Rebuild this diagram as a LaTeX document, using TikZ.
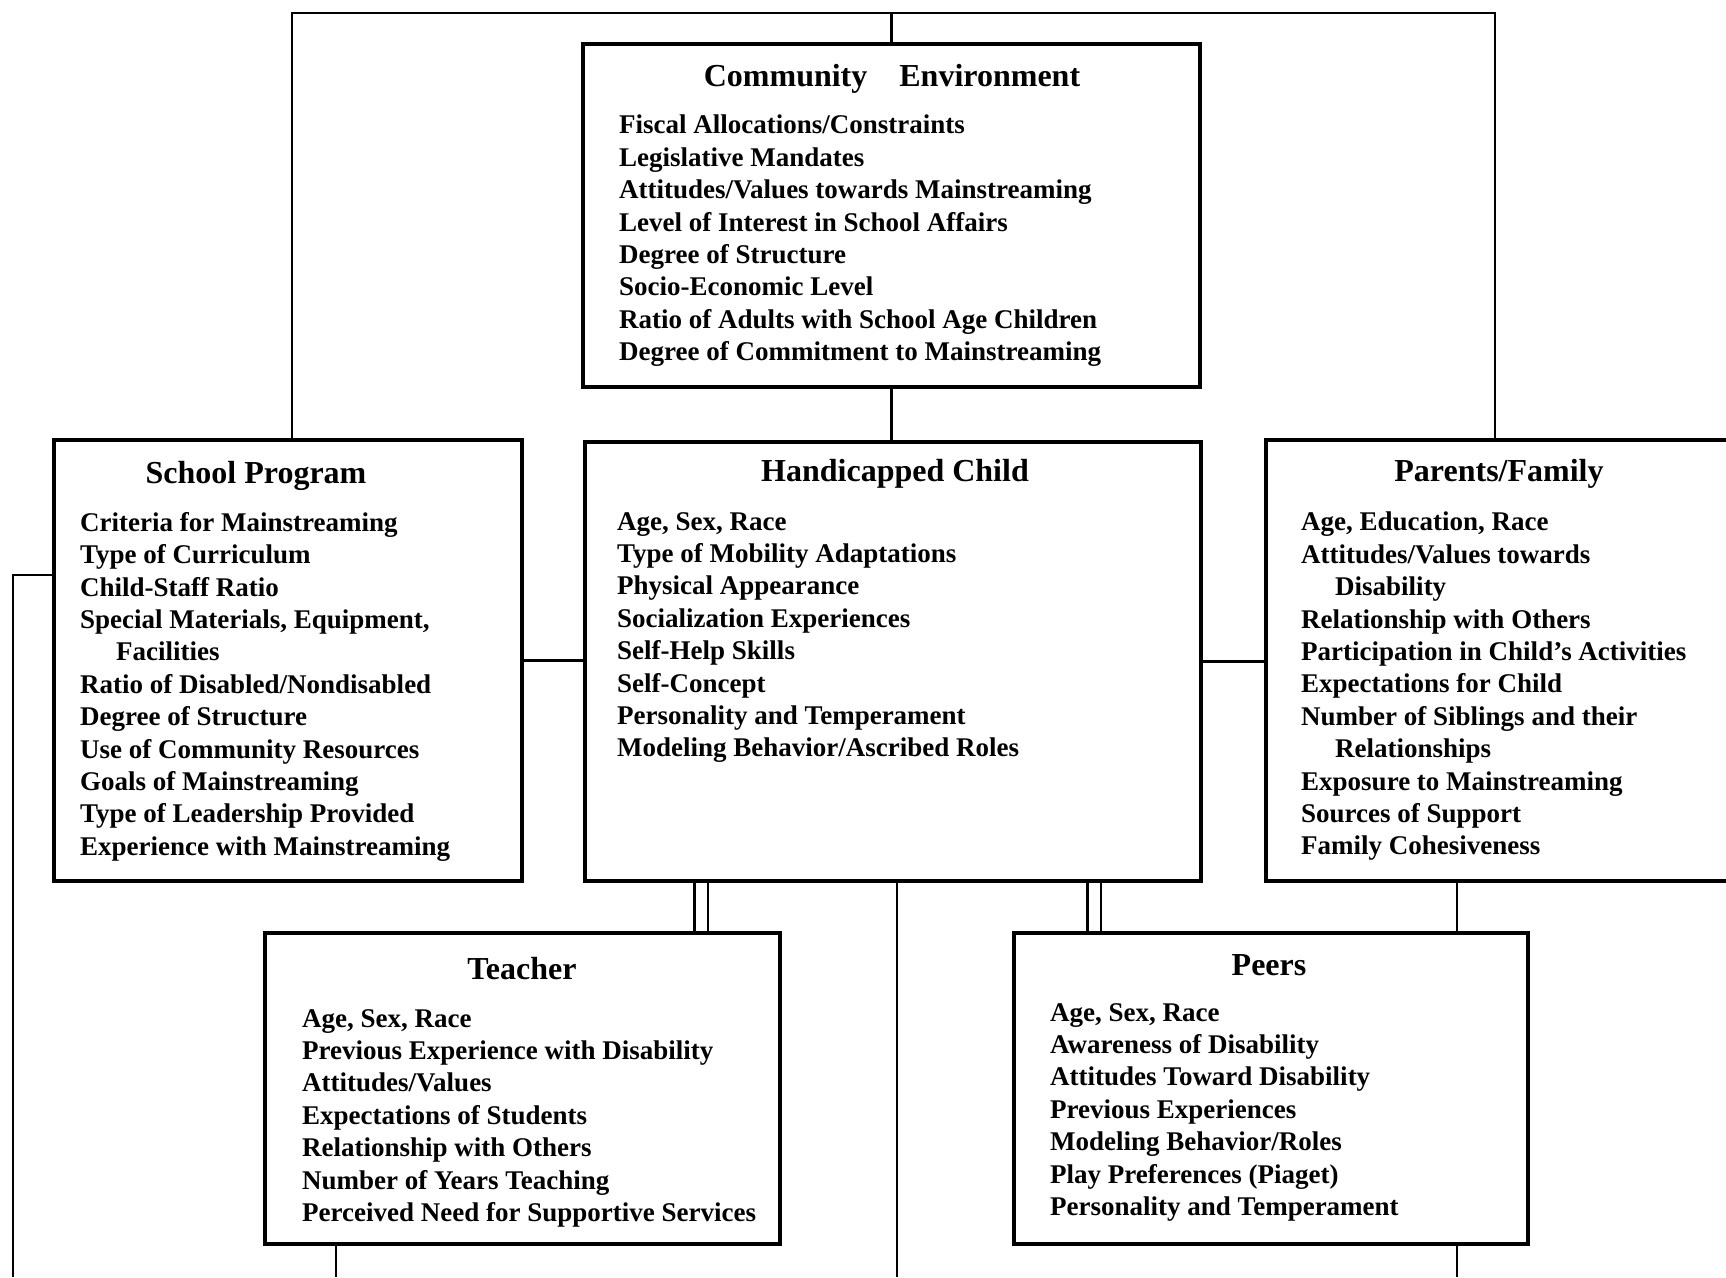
\documentclass[tikz,border=0pt]{standalone}
\usepackage{fontspec}
\setmainfont{Liberation Serif}
\usetikzlibrary{positioning}

\begin{document}
\begin{tikzpicture} [
  x=1pt, y=-1pt,
  box/.style={draw,rectangle,line width=4pt,anchor=north west,inner sep=0},
  head/.style={font=\fontsize{32}{38}\selectfont\bfseries,inner sep=0},
  items/.style={font=\fontsize{27}{32.4}\selectfont\bfseries,align=left,anchor=north west,inner sep=0},
  link/.style={line width=2.4pt},
  dbl/.style={double,line width=2.4pt,double distance=11pt}
  ]
  \useasboundingbox (0,0) rectangle (1726,1277);

  % boxes
  \node (comm) [box,minimum width=617pt,minimum height=343pt] at (581,42) {};
  \node (school) [box,minimum width=468pt,minimum height=441pt] at (52,438) {};
  \node (child) [box,minimum width=616pt,minimum height=439pt] at (583,440) {};
  \node (parents) [box,minimum width=480pt,minimum height=441pt] at (1264,438) {};
  \node (teacher) [box,minimum width=515pt,minimum height=311pt] at (263,931) {};
  \node (peers) [box,minimum width=514pt,minimum height=311pt] at (1012,931) {};

  % titles
  \node (commT) [head] at (892,79) {Community\quad Environment};
  \node (schoolT) [head] at (256,476) {School Program};
  \node (childT) [head] at (895,474) {Handicapped Child};
  \node (parentsT) [head] at (1499,474) {Parents/Family};
  \node (teacherT) [head] at (522,969) {Teacher};
  \node (peersT) [head] at (1269,965) {Peers};

  % lists
  \node (commL) [items] at (619,115) {
    Fiscal Allocations/Constraints\\
    Legislative Mandates\\
    Attitudes/Values towards Mainstreaming\\
    Level of Interest in School Affairs\\
    Degree of Structure\\
    Socio-Economic Level\\
    Ratio of Adults with School Age Children\\
    Degree of Commitment to Mainstreaming};
  \node (schoolL) [items] at (80,512) {
    Criteria for Mainstreaming\\
    Type of Curriculum\\
    Child-Staff Ratio\\
    Special Materials, Equipment,\\
    \hspace*{36pt}Facilities\\
    Ratio of Disabled/Nondisabled\\
    Degree of Structure\\
    Use of Community Resources\\
    Goals of Mainstreaming\\
    Type of Leadership Provided\\
    Experience with Mainstreaming};
  \node (childL) [items] at (617,512) {
    Age, Sex, Race\\
    Type of Mobility Adaptations\\
    Physical Appearance\\
    Socialization Experiences\\
    Self-Help Skills\\
    Self-Concept\\
    Personality and Temperament\\
    Modeling Behavior/Ascribed Roles};
  \node (parentsL) [items] at (1301,512) {
    Age, Education, Race\\
    Attitudes/Values towards\\
    \hspace*{34pt}Disability\\
    Relationship with Others\\
    Participation in Child's Activities\\
    Expectations for Child\\
    Number of Siblings and their\\
    \hspace*{34pt}Relationships\\
    Exposure to Mainstreaming\\
    Sources of Support\\
    Family Cohesiveness};
  \node (teacherL) [items] at (302,1009) {
    Age, Sex, Race\\
    Previous Experience with Disability\\
    Attitudes/Values\\
    Expectations of Students\\
    Relationship with Others\\
    Number of Years Teaching\\
    Perceived Need for Supportive Services};
  \node (peersL) [items] at (1050,1003) {
    Age, Sex, Race\\
    Awareness of Disability\\
    Attitudes Toward Disability\\
    Previous Experiences\\
    Modeling Behavior/Roles\\
    Play Preferences (Piaget)\\
    Personality and Temperament};

  % connectors
  \coordinate (tl) at (292,13);
  \coordinate (tr) at (1495,13);
  \coordinate (lf) at (13,575);
  \coordinate (bt) at (0,1277);
  \coordinate (tc) at (701,0);
  \coordinate (pc) at (1094,0);
  \coordinate (mc) at (897,0);
  \coordinate (fc) at (1457,0);
  \coordinate (tb) at (336,0);

  \draw[link] (school.north -| tl) -- (tl) -- (tr) -- (parents.north -| tr);
  \draw[link] (comm.north) -- (comm.north |- tl);
  \draw[link] (comm.south) -- (comm.south |- child.north);
  \draw[link] (school.east) -- (school.east -| child.west);
  \draw[link] (child.east) -- (child.east -| parents.west);
  \draw[link] (school.west |- lf) -- (lf) -- (lf |- bt);
  \draw[dbl] (child.south -| tc) -- (teacher.north -| tc);
  \draw[dbl] (child.south -| pc) -- (peers.north -| pc);
  \draw[link] (child.south -| mc) -- (mc |- bt);
  \draw[link] (parents.south -| fc) -- (peers.north -| fc);
  \draw[link] (teacher.south -| tb) -- (tb |- bt);
  \draw[link] (peers.south -| fc) -- (fc |- bt);
\end{tikzpicture}
\end{document}
